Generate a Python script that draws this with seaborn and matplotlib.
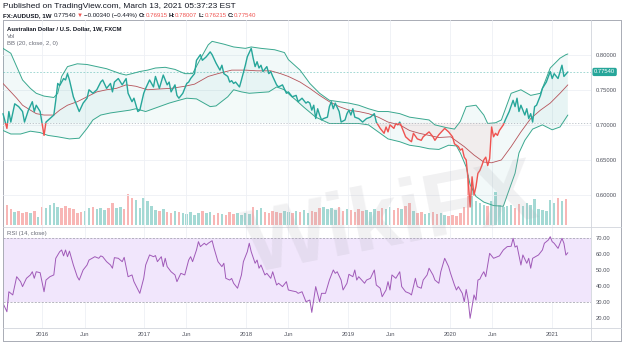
import numpy as np
import pandas as pd
import matplotlib
matplotlib.use("Agg")
import matplotlib.pyplot as plt
import matplotlib.dates as mdates
from matplotlib.patches import Rectangle
from matplotlib.lines import Line2D
import seaborn as sns

sns.set_theme(style="white")
plt.rcParams["font.family"] = ["Liberation Sans", "DejaVu Sans"]

# ---------------- data (weekly AUDUSD, week index from 2016-01-01) ----------------
close_wk = [-20, -18, -17, -16, -14, -12, -10, -9, -7, -5, -4, -3, -1, 1, 2, 4, 6, 7, 8, 9,
            11, 12, 13, 14, 16, 18, 19, 21, 23, 24, 26, 28, 30, 31, 33, 35, 36, 37, 39, 41,
            43, 44, 46, 47, 49, 50, 52, 53, 55, 57, 58, 60, 62, 64, 65, 66, 68, 69, 70, 72,
            74, 75, 76, 78, 79, 81, 82, 84, 86, 87, 89, 91, 92, 93, 95, 96, 97, 98, 99, 101,
            102, 104, 105, 107, 108, 109, 110, 111, 112, 113, 115, 116, 117, 118, 120, 121, 123, 125, 126, 128,
            130, 131, 133, 135, 136, 137, 138, 139, 140, 141, 142, 143, 144, 146, 147, 148, 149, 150, 152, 153,
            155, 156, 157, 158, 159, 160, 162, 164, 166, 168, 170, 171, 173, 175, 176, 177, 178, 180, 181, 182,
            183, 185, 186, 188, 189, 190, 192, 194, 195, 198, 200, 201, 203, 206, 208, 210, 211, 213, 214, 215,
            216, 217, 218, 219, 220, 221, 222, 223, 224, 225, 226, 227, 228, 229, 230, 231, 232, 233, 234, 236,
            237, 239, 241, 242, 243, 244, 245, 247, 248, 249, 250, 251, 252, 253, 255, 256, 258, 260, 261, 262,
            264, 266, 267, 269]
close_val = [0.716, 0.695, 0.719, 0.704, 0.730, 0.726, 0.719, 0.704, 0.721, 0.733, 0.719, 0.728, 0.719, 0.685, 0.704, 0.709, 0.714, 0.735, 0.759, 0.756,
             0.766, 0.764, 0.773, 0.764, 0.740, 0.726, 0.719, 0.731, 0.738, 0.750, 0.745, 0.750, 0.761, 0.764, 0.752, 0.759, 0.747, 0.761, 0.766, 0.757,
             0.766, 0.745, 0.733, 0.738, 0.719, 0.721, 0.745, 0.752, 0.764, 0.754, 0.769, 0.752, 0.771, 0.757, 0.761, 0.747, 0.757, 0.742, 0.738, 0.745,
             0.759, 0.761, 0.766, 0.773, 0.792, 0.800, 0.792, 0.797, 0.804, 0.800, 0.788, 0.778, 0.785, 0.773, 0.769, 0.761, 0.763, 0.759, 0.761, 0.754,
             0.764, 0.785, 0.797, 0.809, 0.795, 0.783, 0.790, 0.781, 0.785, 0.776, 0.783, 0.773, 0.776, 0.769, 0.757, 0.754, 0.757, 0.745, 0.747, 0.740,
             0.742, 0.733, 0.738, 0.731, 0.733, 0.731, 0.721, 0.728, 0.709, 0.723, 0.714, 0.707, 0.709, 0.711, 0.726, 0.733, 0.723, 0.731, 0.719, 0.704,
             0.707, 0.716, 0.721, 0.714, 0.723, 0.711, 0.709, 0.704, 0.709, 0.711, 0.716, 0.704, 0.695, 0.688, 0.697, 0.690, 0.700, 0.695, 0.702, 0.700,
             0.704, 0.690, 0.683, 0.678, 0.676, 0.688, 0.680, 0.678, 0.683, 0.690, 0.683, 0.678, 0.686, 0.695, 0.690, 0.683, 0.673, 0.669, 0.664, 0.666,
             0.654, 0.650, 0.621, 0.583, 0.626, 0.600, 0.612, 0.631, 0.635, 0.642, 0.650, 0.654, 0.642, 0.652, 0.697, 0.683, 0.688, 0.685, 0.692, 0.700,
             0.707, 0.719, 0.735, 0.726, 0.738, 0.719, 0.728, 0.714, 0.723, 0.709, 0.716, 0.704, 0.726, 0.728, 0.742, 0.752, 0.761, 0.776, 0.766, 0.773,
             0.766, 0.785, 0.769, 0.7754]

bb_up_wk = [-20, -16, -13, -10, -6, -3, 1, 6, 8, 10, 13, 18, 23, 28, 33, 40, 43, 46, 50, 54,
            58, 63, 68, 73, 77, 81, 85, 87, 93, 98, 104, 107, 112, 119, 124, 126, 132, 137, 142, 147,
            152, 157, 162, 167, 172, 177, 183, 188, 193, 198, 201, 207, 211, 214, 217, 222, 226, 228, 232, 235,
            240, 245, 250, 255, 260, 265, 268, 269]
bb_up = [0.809, 0.802, 0.783, 0.764, 0.752, 0.745, 0.741, 0.739, 0.745, 0.769, 0.783, 0.787, 0.786, 0.783, 0.780, 0.773, 0.771, 0.773, 0.776, 0.778,
         0.781, 0.782, 0.779, 0.773, 0.773, 0.794, 0.814, 0.819, 0.815, 0.811, 0.809, 0.811, 0.809, 0.807, 0.803, 0.793, 0.778, 0.759, 0.745, 0.735,
         0.733, 0.731, 0.728, 0.723, 0.719, 0.719, 0.716, 0.711, 0.709, 0.707, 0.700, 0.696, 0.694, 0.705, 0.726, 0.728, 0.714, 0.702, 0.703, 0.707,
         0.745, 0.750, 0.742, 0.745, 0.781, 0.795, 0.800, 0.801]

bb_mid_wk = [-20, -16, -13, -10, -6, -3, 1, 6, 9, 13, 18, 23, 28, 33, 38, 43, 48, 54, 59, 66,
             73, 78, 85, 90, 97, 104, 110, 117, 122, 126, 132, 137, 142, 147, 152, 157, 162, 167, 172, 177,
             183, 188, 193, 198, 203, 209, 216, 221, 226, 230, 235, 240, 245, 250, 255, 260, 265, 269]
bb_mid = [0.759, 0.747, 0.738, 0.728, 0.721, 0.716, 0.714, 0.714, 0.721, 0.728, 0.733, 0.740, 0.747, 0.750, 0.752, 0.757, 0.755, 0.750, 0.751, 0.752,
          0.755, 0.758, 0.769, 0.773, 0.778, 0.778, 0.777, 0.777, 0.773, 0.769, 0.761, 0.752, 0.742, 0.733, 0.726, 0.721, 0.719, 0.716, 0.711, 0.704,
          0.700, 0.692, 0.688, 0.685, 0.682, 0.683, 0.669, 0.657, 0.647, 0.646, 0.650, 0.669, 0.690, 0.709, 0.721, 0.731, 0.745, 0.757]

bb_low_wk = [-20, -16, -11, -6, -1, 3, 8, 14, 19, 23, 26, 30, 35, 40, 45, 48, 53, 60, 65, 70,
             74, 79, 86, 89, 95, 98, 102, 106, 111, 116, 120, 124, 127, 130, 134, 140, 147, 154, 162, 167,
             172, 177, 183, 188, 193, 198, 203, 208, 212, 214, 217, 219, 222, 226, 231, 236, 238, 242, 244, 247,
             251, 256, 261, 265, 269]
bb_low = [0.692, 0.687, 0.687, 0.691, 0.689, 0.685, 0.683, 0.680, 0.681, 0.695, 0.707, 0.714, 0.717, 0.719, 0.721, 0.723, 0.719, 0.726, 0.731, 0.735,
          0.738, 0.737, 0.726, 0.727, 0.740, 0.750, 0.747, 0.745, 0.746, 0.747, 0.754, 0.750, 0.742, 0.735, 0.725, 0.711, 0.702, 0.702, 0.702, 0.700,
          0.690, 0.680, 0.676, 0.671, 0.669, 0.666, 0.665, 0.671, 0.670, 0.660, 0.640, 0.615, 0.598, 0.590, 0.585, 0.584, 0.600, 0.631, 0.660, 0.678,
          0.694, 0.700, 0.693, 0.697, 0.714]

vol_wk = list(range(-20, 269, 2))
vol = [18, 20, 16, 13, 14, 12, 13, 12, 14, 8, 18, 17, 20, 22, 18, 17, 19, 17, 16, 12,
       13, 14, 17, 18, 16, 17, 15, 17, 22, 17, 18, 16, 31, 27, 25, 17, 27, 24, 19, 15,
       14, 16, 13, 12, 14, 13, 12, 11, 13, 10, 12, 14, 12, 13, 10, 12, 11, 10, 13, 11,
       12, 10, 12, 11, 18, 15, 17, 13, 12, 14, 13, 12, 14, 13, 12, 14, 13, 15, 12, 14,
       13, 17, 18, 16, 17, 15, 18, 14, 16, 15, 13, 16, 14, 15, 13, 16, 14, 17, 16, 18,
       15, 17, 16, 19, 22, 14, 12, 13, 11, 12, 13, 11, 12, 10, 9, 10, 9, 12, 18, 50,
       40, 24, 22, 20, 19, 24, 33, 20, 18, 19, 20, 17, 21, 19, 22, 20, 26, 16, 15, 14,
       25, 22, 27, 24, 26]

rsi_wk = [-20, -18, -17, -15, -13, -11, -10, -8, -6, -5, -4, -3, -1, 1, 2, 4, 6, 7, 9, 10,
          11, 12, 13, 14, 16, 18, 19, 21, 23, 24, 27, 29, 30, 31, 33, 35, 36, 37, 39, 41,
          42, 44, 46, 47, 50, 52, 53, 55, 57, 58, 59, 61, 62, 63, 64, 66, 68, 69, 71, 73,
          75, 76, 77, 79, 80, 81, 83, 84, 85, 87, 88, 90, 92, 93, 94, 96, 97, 98, 100, 102,
          103, 105, 106, 107, 109, 110, 111, 112, 114, 115, 117, 118, 120, 121, 123, 125, 126, 128, 130, 131,
          133, 135, 137, 138, 140, 142, 143, 145, 147, 149, 150, 151, 153, 154, 156, 157, 159, 160, 161, 162,
          165, 166, 168, 170, 171, 173, 174, 176, 177, 178, 179, 181, 183, 184, 186, 188, 189, 191, 192, 194,
          195, 197, 198, 200, 201, 203, 204, 206, 208, 209, 211, 212, 213, 215, 216, 217, 218, 219, 220, 221,
          222, 223, 224, 225, 226, 227, 229, 231, 234, 236, 238, 240, 241, 242, 243, 245, 246, 248, 249, 250,
          251, 254, 256, 257, 259, 260, 261, 262, 264, 265, 266, 267, 268, 269]
rsi_val = [29.4, 24.1, 36.6, 34.6, 46.0, 42.9, 39.8, 45.0, 47.1, 49.1, 45.0, 49.1, 48.5, 36.6, 43.9, 46.0, 47.1, 57.5, 61.6, 62.7,
           59.0, 62.7, 58.5, 62.0, 53.3, 46.0, 43.9, 50.2, 53.3, 56.4, 58.5, 57.5, 59.0, 58.5, 55.4, 53.3, 51.3, 57.9, 57.5, 55.4,
           58.1, 46.0, 47.1, 42.9, 35.6, 45.0, 53.3, 59.6, 58.5, 59.2, 55.4, 58.5, 52.3, 57.5, 52.3, 49.1, 47.1, 42.9, 48.1, 47.1,
           56.4, 58.5, 55.4, 62.7, 67.9, 64.8, 66.9, 65.8, 66.9, 68.5, 63.7, 55.4, 52.3, 54.4, 45.0, 43.9, 44.9, 41.9, 38.8, 47.1,
           55.4, 61.6, 66.9, 61.6, 54.4, 56.4, 51.3, 53.3, 47.1, 48.1, 45.0, 49.1, 40.8, 41.9, 39.8, 42.9, 37.7, 37.1, 36.6, 35.6,
           36.6, 30.4, 31.4, 23.7, 39.8, 30.4, 35.6, 35.6, 43.9, 50.2, 48.1, 49.1, 43.9, 37.7, 41.9, 47.5, 46.0, 50.2, 43.9, 46.0,
           41.9, 43.9, 45.0, 50.2, 40.8, 38.8, 33.5, 37.7, 42.9, 37.7, 47.1, 45.0, 49.1, 39.8, 36.6, 35.6, 34.6, 45.0, 39.8, 38.8,
           43.9, 47.1, 51.3, 47.1, 43.9, 41.9, 49.1, 57.5, 52.3, 48.1, 40.8, 37.7, 39.8, 35.6, 30.4, 38.0, 31.4, 20.0, 27.2, 34.6,
           31.4, 43.9, 44.5, 47.1, 49.1, 46.0, 60.6, 57.5, 59.0, 62.7, 64.8, 65.0, 70.0, 64.5, 65.3, 53.3, 59.6, 54.4, 57.5, 51.3,
           57.5, 59.6, 62.7, 66.9, 68.9, 71.0, 67.9, 66.9, 63.7, 66.9, 70.0, 66.9, 59.5, 61.0]

price_ticks = [0.60, 0.65, 0.70, 0.75, 0.80]
rsi_ticks = [20, 30, 40, 50, 60, 70]
time_ticks = ["2016-01-01", "2016-06-01", "2017-01-01", "2017-06-01", "2018-01-01", "2018-06-01",
              "2019-01-01", "2019-06-01", "2020-01-01", "2020-06-01", "2021-01-01"]
time_labels = ["2016", "Jun", "2017", "Jun", "2018", "Jun", "2019", "Jun", "2020", "Jun", "2021"]
LAST = 0.77540
BASELINE = 0.7028

# ---------------- styling ----------------
GREEN = "#26a69a"
RED = "#ef5350"
BAND = "#3aa88f"
BASIS = "#b5535a"
RSI_C = "#a05ab8"
TXT = "#131722"
GREY = "#6a6d78"

W, H = 624, 345
BASE_DATE = pd.Timestamp("2016-01-01")


def wk2date(w):
    return BASE_DATE + pd.to_timedelta(np.asarray(w) * 7, unit="D")


def rect(x0, y0, x1, y1):
    return [x0 / W, 1 - y1 / H, (x1 - x0) / W, (y1 - y0) / H]


df_close = pd.DataFrame({"date": wk2date(close_wk), "close": close_val})
df_up = pd.DataFrame({"date": wk2date(bb_up_wk), "v": bb_up})
df_mid = pd.DataFrame({"date": wk2date(bb_mid_wk), "v": bb_mid})
df_low = pd.DataFrame({"date": wk2date(bb_low_wk), "v": bb_low})
df_rsi = pd.DataFrame({"date": wk2date(rsi_wk), "rsi": rsi_val})

# volume colour from direction of the close readings
cw = np.array(close_wk)
cv = np.array(close_val)
vol_col = []
for w in vol_wk:
    i = max(np.searchsorted(cw, w, side="right") - 1, 1)
    vol_col.append(GREEN if cv[i] >= cv[i - 1] else RED)
df_vol = pd.DataFrame({"date": wk2date(vol_wk), "vol": vol, "col": vol_col})

XMIN = pd.Timestamp("2015-08-14")
XMAX = pd.Timestamp("2021-05-20")

fig = plt.figure(figsize=(W / 100, H / 100), dpi=100)
fig.patch.set_facecolor("white")

# ---------------- main pane ----------------
ax = fig.add_axes(rect(3, 20, 591, 227))
axv = ax.twinx()
ax.set_zorder(2)
axv.set_zorder(1)
ax.patch.set_visible(False)

axv.bar(df_vol["date"], df_vol["vol"], width=9, color=df_vol["col"], alpha=0.42, linewidth=0)
axv.set_ylim(-2, 205)
axv.axis("off")

# Bollinger band background
poly_x = np.concatenate([mdates.date2num(df_up["date"]), mdates.date2num(df_low["date"])[::-1]])
poly_y = np.concatenate([df_up["v"].values, df_low["v"].values[::-1]])
ax.fill(poly_x, poly_y, color=GREEN, alpha=0.06, linewidth=0)

# baseline fills
d = df_close["date"]
c = df_close["close"].values
ax.fill_between(d, c, BASELINE, where=c >= BASELINE, interpolate=True, color=GREEN, alpha=0.05, linewidth=0)
ax.fill_between(d, c, BASELINE, where=c < BASELINE, interpolate=True, color=RED, alpha=0.07, linewidth=0)

sns.lineplot(data=df_up, x="date", y="v", ax=ax, color=BAND, linewidth=0.7, estimator=None, sort=False)
sns.lineplot(data=df_low, x="date", y="v", ax=ax, color=BAND, linewidth=0.7, estimator=None, sort=False)
sns.lineplot(data=df_mid, x="date", y="v", ax=ax, color=BASIS, linewidth=0.6, estimator=None, sort=False)

x0n = mdates.date2num(pd.Timestamp("2014-01-01"))
x1n = mdates.date2num(pd.Timestamp("2023-01-01"))
sns.lineplot(data=df_close, x="date", y="close", ax=ax, color=GREEN, linewidth=1.0, estimator=None, sort=False)
ax.lines[-1].set_clip_path(Rectangle((x0n, BASELINE), x1n - x0n, 1.0, transform=ax.transData))
sns.lineplot(data=df_close, x="date", y="close", ax=ax, color=RED, linewidth=1.0, estimator=None, sort=False)
ax.lines[-1].set_clip_path(Rectangle((x0n, 0.0), x1n - x0n, BASELINE, transform=ax.transData))

ax.axhline(LAST, color=GREEN, lw=0.6, ls=(0, (2, 2)), alpha=0.5)
ax.axhline(BASELINE, color="#9aa3ad", lw=0.6, ls=(0, (1.5, 2)), alpha=0.7)

ax.set_xlim(XMIN, XMAX)
ax.set_ylim(0.5545, 0.8494)
ax.yaxis.tick_right()
ax.set_yticks(price_ticks)
ax.set_yticklabels([f"{v:.5f}" for v in price_ticks])
ax.tick_params(axis="y", length=0, pad=3.2, labelsize=4.2, labelcolor="#50535e")
ax.set_xticks(pd.to_datetime(time_ticks))
ax.tick_params(axis="x", length=0, labelbottom=False)
ax.grid(True, color="#eef0f5", linewidth=0.6)
ax.set_xlabel("")
ax.set_ylabel("")
for s in ax.spines.values():
    s.set_visible(False)

ax.annotate(f"{LAST:.5f}", xy=(1, LAST), xycoords=("axes fraction", "data"),
            xytext=(2.2, 0), textcoords="offset points", va="center", ha="left",
            color="white", fontsize=4.2,
            bbox=dict(boxstyle="round,pad=0.28,rounding_size=0.3", fc=GREEN, ec="none"))

# ---------------- RSI pane ----------------
axr = fig.add_axes(rect(3, 227, 591, 328))
axr.axhspan(30, 70, color="#f1e6fc", linewidth=0)
axr.axhline(70, color="#9a9aa6", lw=0.5, ls=(0, (3, 2)))
axr.axhline(30, color="#9a9aa6", lw=0.5, ls=(0, (3, 2)))
sns.lineplot(data=df_rsi, x="date", y="rsi", ax=axr, color=RSI_C, linewidth=0.7, estimator=None, sort=False)
axr.set_xlim(XMIN, XMAX)
axr.set_ylim(13.94, 77.06)
axr.yaxis.tick_right()
axr.set_yticks(rsi_ticks)
axr.set_yticklabels([f"{v:.2f}" for v in rsi_ticks])
axr.tick_params(axis="y", length=0, pad=3.2, labelsize=4.2, labelcolor="#50535e")
axr.set_xticks(pd.to_datetime(time_ticks))
axr.set_xticklabels(time_labels)
axr.tick_params(axis="x", length=0, pad=3.0, labelsize=4.2, labelcolor="#50535e")
axr.grid(True, axis="x", color="#eef0f5", linewidth=0.6)
axr.set_xlabel("")
axr.set_ylabel("")
for s in axr.spines.values():
    s.set_visible(False)

# ---------------- frame lines ----------------
def hline(y, x0, x1, color="#d1d4dc", lw=0.6):
    fig.add_artist(Line2D([x0 / W, x1 / W], [1 - y / H, 1 - y / H], color=color, lw=lw))


def vline(x, y0, y1, color="#d1d4dc", lw=0.6):
    fig.add_artist(Line2D([x / W, x / W], [1 - y0 / H, 1 - y1 / H], color=color, lw=lw))


hline(20, 3, 621, "#a9acb5", 0.7)
hline(341, 3, 621, "#a9acb5", 0.7)
vline(3, 20, 341, "#a9acb5", 0.7)
vline(621, 20, 341, "#a9acb5", 0.7)
hline(227, 3, 621)
hline(328, 3, 621)
vline(591, 20, 341)

# ---------------- watermark (faint, over both panes) ----------------
wm = fig.text(392 / W, 1 - 222 / H, "WikiFX", fontsize=64, fontweight="bold",
              color="#a8a8b0", alpha=0.16, rotation=11, ha="center", va="center")
wm.set_zorder(5)

# ---------------- texts ----------------
def seq_text(x_px, y_px, parts, size):
    prev = fig.text(x_px / W, 1 - y_px / H, parts[0][0], color=parts[0][1], fontsize=size,
                    fontweight=parts[0][2], va="center", ha="left")
    for s, col, wt, gap in parts[1:]:
        prev = fig.add_artist(matplotlib.text.Annotation(
            s, xy=(1, 0.5), xycoords=prev, xytext=(gap, 0), textcoords="offset points",
            va="center", ha="left", color=col, fontsize=size, fontweight=wt))
    return prev


fig.text(3 / W, 1 - 6 / H, "Published on TradingView.com, March 13, 2021 05:37:23 EST",
         fontsize=6.0, color=TXT, va="center", ha="left")
seq_text(3, 15.5, [("FX:AUDUSD, 1W", TXT, "bold"),
                   ("0.77540", TXT, "normal", 1.5),
                   ("▼", RED, "normal", 0.8),
                   ("−0.00340 (−0.44%)", TXT, "normal", 0.8),
                   ("O:", TXT, "bold", 0.8),
                   ("0.76915", RED, "normal", 0.1),
                   ("H:", TXT, "bold", 0.8),
                   ("0.78007", RED, "normal", 0.1),
                   ("L:", TXT, "bold", 0.8),
                   ("0.76215", RED, "normal", 0.1),
                   ("C:", TXT, "bold", 0.8),
                   ("0.77540", RED, "normal", 0.1)], 4.4)

fig.text(7 / W, 1 - 28.3 / H, "Australian Dollar / U.S. Dollar, 1W, FXCM", fontsize=4.3,
         fontweight="bold", color=TXT, va="center", ha="left")
fig.text(7 / W, 1 - 36 / H, "Vol", fontsize=4.3, color=GREY, va="center", ha="left")
fig.text(7 / W, 1 - 43.5 / H, "BB (20, close, 2, 0)", fontsize=4.3, color=GREY, va="center", ha="left")
fig.text(7 / W, 1 - 233.3 / H, "RSI (14, close)", fontsize=4.3, color=GREY, va="center", ha="left")

fig.savefig("out.png", dpi=100, facecolor="white")
